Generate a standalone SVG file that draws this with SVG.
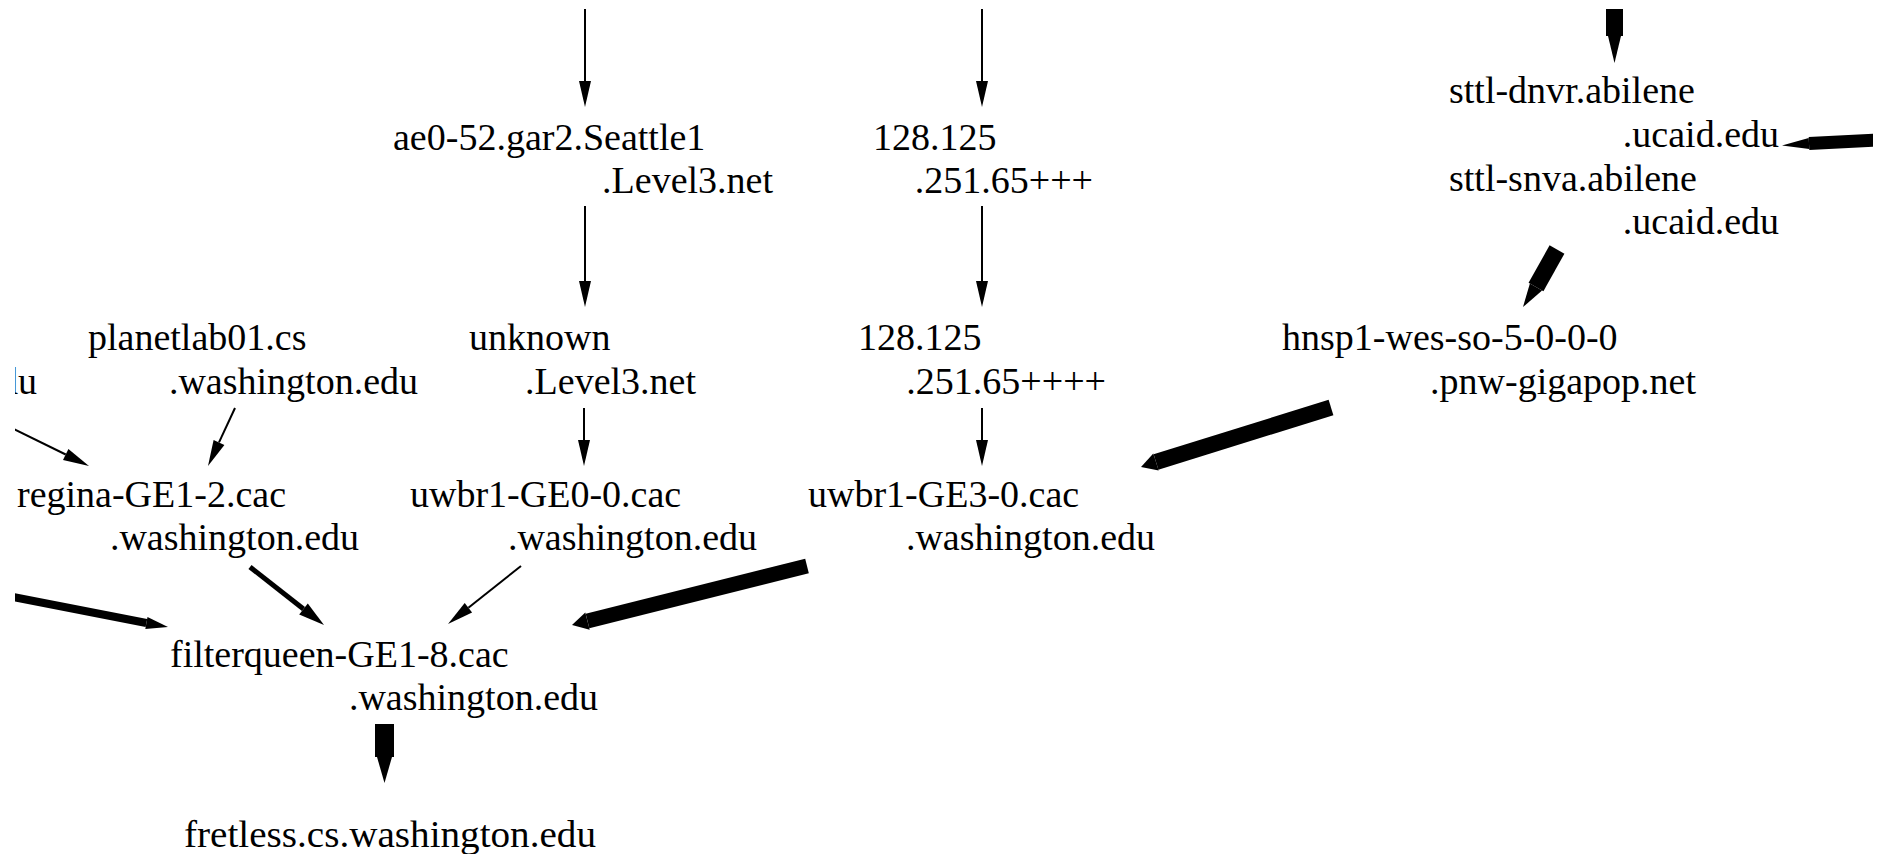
<svg xmlns="http://www.w3.org/2000/svg" width="1883" height="854" viewBox="0 0 1883 854">
<defs>
<clipPath id="view"><rect x="15" y="9" width="1858" height="845"/></clipPath>
<style>
.t{font-family:"Liberation Serif","Times New Roman",serif;font-size:38px;fill:#000}
.r{text-anchor:end}
.s{stroke:#000;fill:none;stroke-linecap:butt}
.h{fill:#000;stroke:none}
</style>
</defs>
<rect width="1883" height="854" fill="#fff"/>
<g clip-path="url(#view)">
<g id="edges">
<line class="s" x1="585" y1="0" x2="585" y2="81" stroke-width="2"/><polygon class="h" points="579,81 591,81 585,107"/>
<line class="s" x1="982" y1="0" x2="982" y2="81" stroke-width="2"/><polygon class="h" points="976,81 988,81 982,107"/>
<line class="s" x1="1614.5" y1="0" x2="1614.5" y2="36" stroke-width="17"/><polygon class="h" points="1608,36 1621,36 1614.5,63"/>
<line class="s" x1="1890" y1="139.5" x2="1809" y2="143.5" stroke-width="13"/><polygon class="h" points="1809.3,149 1808.7,138 1782,145.5"/>
<line class="s" x1="1557" y1="249.5" x2="1536" y2="287" stroke-width="17"/><polygon class="h" points="1542.1,290.5 1529.9,283.5 1523,307"/>
<line class="s" x1="585" y1="206" x2="585" y2="281" stroke-width="2"/><polygon class="h" points="579,281 591,281 585,307"/>
<line class="s" x1="982" y1="206" x2="982" y2="281" stroke-width="2"/><polygon class="h" points="976,281 988,281 982,307"/>
<line class="s" x1="584" y1="408" x2="584" y2="440" stroke-width="2"/><polygon class="h" points="578,440 590,440 584,466"/>
<line class="s" x1="982" y1="408" x2="982" y2="440" stroke-width="2"/><polygon class="h" points="976,440 988,440 982,466"/>
<line class="s" x1="235" y1="408" x2="219" y2="442.4" stroke-width="2"/><polygon class="h" points="224.4,444.9 213.6,439.9 208,466"/>
<line class="s" x1="-20" y1="412.3" x2="65.7" y2="454.5" stroke-width="2"/><polygon class="h" points="63,459.9 68.4,449.1 89,466"/>
<line class="s" x1="1331" y1="407.5" x2="1156" y2="462" stroke-width="16"/><polygon class="h" points="1158.7,470.6 1153.3,453.4 1141,467"/>
<line class="s" x1="250" y1="567" x2="303.5" y2="609" stroke-width="5"/><polygon class="h" points="299.2,614.5 307.8,603.5 324,625"/>
<line class="s" x1="521" y1="566" x2="468.4" y2="607.8" stroke-width="2"/><polygon class="h" points="472.1,612.5 464.7,603.1 448,624"/>
<line class="s" x1="-20" y1="590.5" x2="146.4" y2="623" stroke-width="8"/><polygon class="h" points="145.3,628.9 147.5,617.1 168,627"/>
<line class="s" x1="807" y1="566" x2="587.5" y2="621.1" stroke-width="15"/><polygon class="h" points="589.7,629.8 585.3,612.4 572,625"/>
<line class="s" x1="384.5" y1="724" x2="384.5" y2="757" stroke-width="19"/><polygon class="h" points="377,757 392,757 384.5,783"/>
</g>
<g id="n_ae0"><text class="t" x="393" y="150">ae0-52.gar2.Seattle1</text><text class="t r" x="773" y="193">.Level3.net</text></g>
<g id="n_128a"><text class="t" x="873" y="150">128.125</text><text class="t r" x="1093" y="193">.251.65+++</text></g>
<g id="n_sttl"><text class="t" x="1449" y="103">sttl-dnvr.abilene</text><text class="t r" x="1779" y="147">.ucaid.edu</text><text class="t" x="1449" y="191">sttl-snva.abilene</text><text class="t r" x="1779" y="234">.ucaid.edu</text></g>
<g id="n_left"><text class="t r" x="37" y="394">.washington.edu</text></g>
<g id="n_planet"><text class="t" x="88" y="350">planetlab01.cs</text><text class="t r" x="418" y="394">.washington.edu</text></g>
<g id="n_unknown"><text class="t" x="469" y="350">unknown</text><text class="t r" x="696" y="394">.Level3.net</text></g>
<g id="n_128b"><text class="t" x="858" y="350">128.125</text><text class="t r" x="1106" y="394">.251.65++++</text></g>
<g id="n_hnsp"><text class="t" x="1282" y="350">hnsp1-wes-so-5-0-0-0</text><text class="t r" x="1696" y="394">.pnw-gigapop.net</text></g>
<g id="n_regina"><text class="t" x="17" y="507">regina-GE1-2.cac</text><text class="t r" x="359" y="550">.washington.edu</text></g>
<g id="n_uwbr0"><text class="t" x="410" y="507">uwbr1-GE0-0.cac</text><text class="t r" x="757" y="550">.washington.edu</text></g>
<g id="n_uwbr3"><text class="t" x="808" y="507">uwbr1-GE3-0.cac</text><text class="t r" x="1155" y="550">.washington.edu</text></g>
<g id="n_filter"><text class="t" x="170" y="667">filterqueen-GE1-8.cac</text><text class="t r" x="598" y="710">.washington.edu</text></g>
<g id="n_fretless"><text class="t" x="184" y="847" textLength="412" lengthAdjust="spacingAndGlyphs">fretless.cs.washington.edu</text></g>
</g>
</svg>
